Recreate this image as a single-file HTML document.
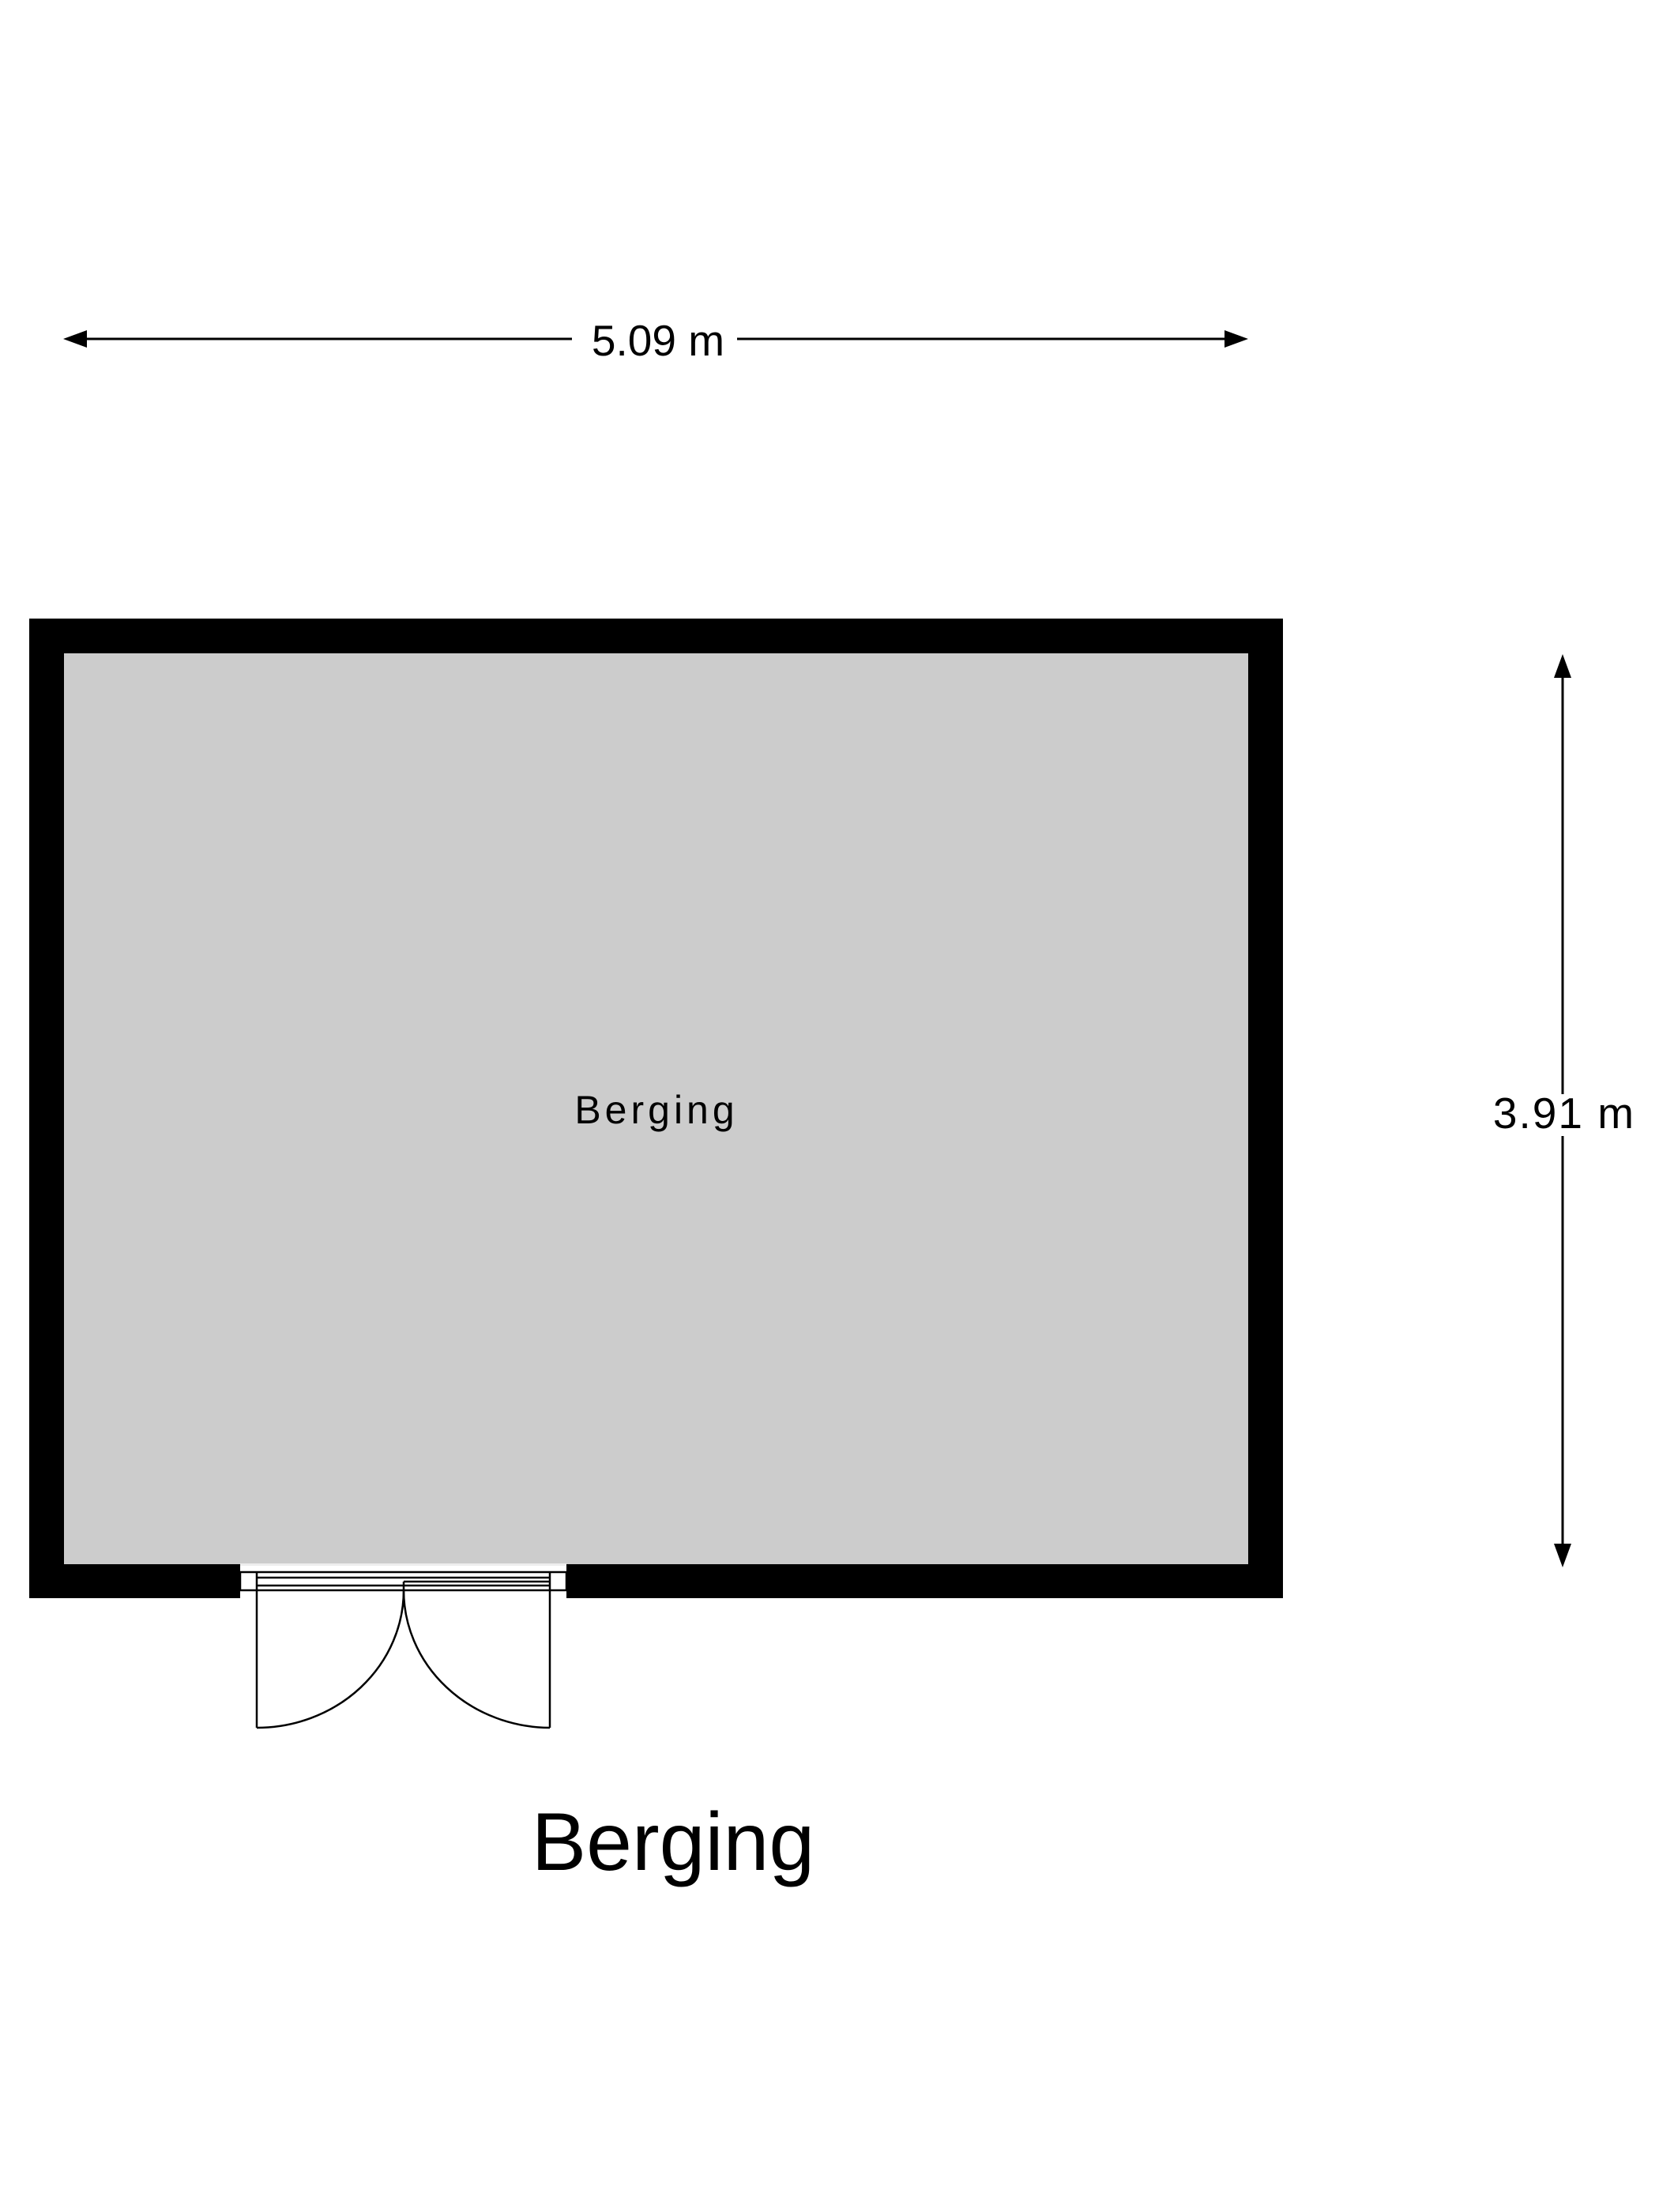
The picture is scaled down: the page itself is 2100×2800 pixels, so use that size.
<!DOCTYPE html>
<html><head><meta charset="utf-8"><style>
html,body{margin:0;padding:0;background:#fff;}
svg{display:block;}
text{font-family:"Liberation Sans",Arial,sans-serif;fill:#000;}
</style></head><body>
<svg width="2100" height="2800" viewBox="0 0 2100 2800" xmlns="http://www.w3.org/2000/svg">
<rect x="0" y="0" width="2100" height="2800" fill="#fff"/>
<rect x="37" y="783" width="1587" height="1240" fill="#000"/>
<rect x="81" y="827" width="1499" height="1153" fill="#cccccc"/>
<rect x="304" y="1979" width="413" height="46" fill="#fff"/>
<rect x="304" y="1979" width="413" height="3" fill="#eee"/>
<g stroke="#000" stroke-width="2.5" fill="none">
<rect x="304" y="1990" width="413" height="23"/>
<line x1="325" y1="1990" x2="325" y2="2187"/>
<line x1="696" y1="1990" x2="696" y2="2187"/>
<line x1="325" y1="1997" x2="696" y2="1997"/>
<line x1="511" y1="2002" x2="696" y2="2002"/>
<line x1="325" y1="2007" x2="696" y2="2007"/>
<line x1="511" y1="2002" x2="511" y2="2013"/>
<path d="M325 2187 A186 174 0 0 0 511 2013"/>
<path d="M696 2187 A186 174 0 0 1 511 2013"/>
</g>
<g stroke="#000" stroke-width="3">
<line x1="90" y1="429" x2="724" y2="429"/>
<line x1="933" y1="429" x2="1570" y2="429"/>
<line x1="1978" y1="840" x2="1978" y2="1385"/>
<line x1="1978" y1="1438" x2="1978" y2="1972"/>
</g>
<polygon points="80,429 110,418 110,440" fill="#000"/>
<polygon points="1580,429 1550,418 1550,440" fill="#000"/>
<polygon points="1978,828 1967,858 1989,858" fill="#000"/>
<polygon points="1978,1984 1967,1954 1989,1954" fill="#000"/>
<text x="833" y="450" font-size="55" text-anchor="middle">5.09 m</text>
<text x="1980" y="1428" font-size="55" text-anchor="middle" letter-spacing="2">3.91 m</text>
<text x="831" y="1422" font-size="50" text-anchor="middle" letter-spacing="5">Berging</text>
<text x="852" y="2367" font-size="104" text-anchor="middle">Berging</text>
</svg>
</body></html>
